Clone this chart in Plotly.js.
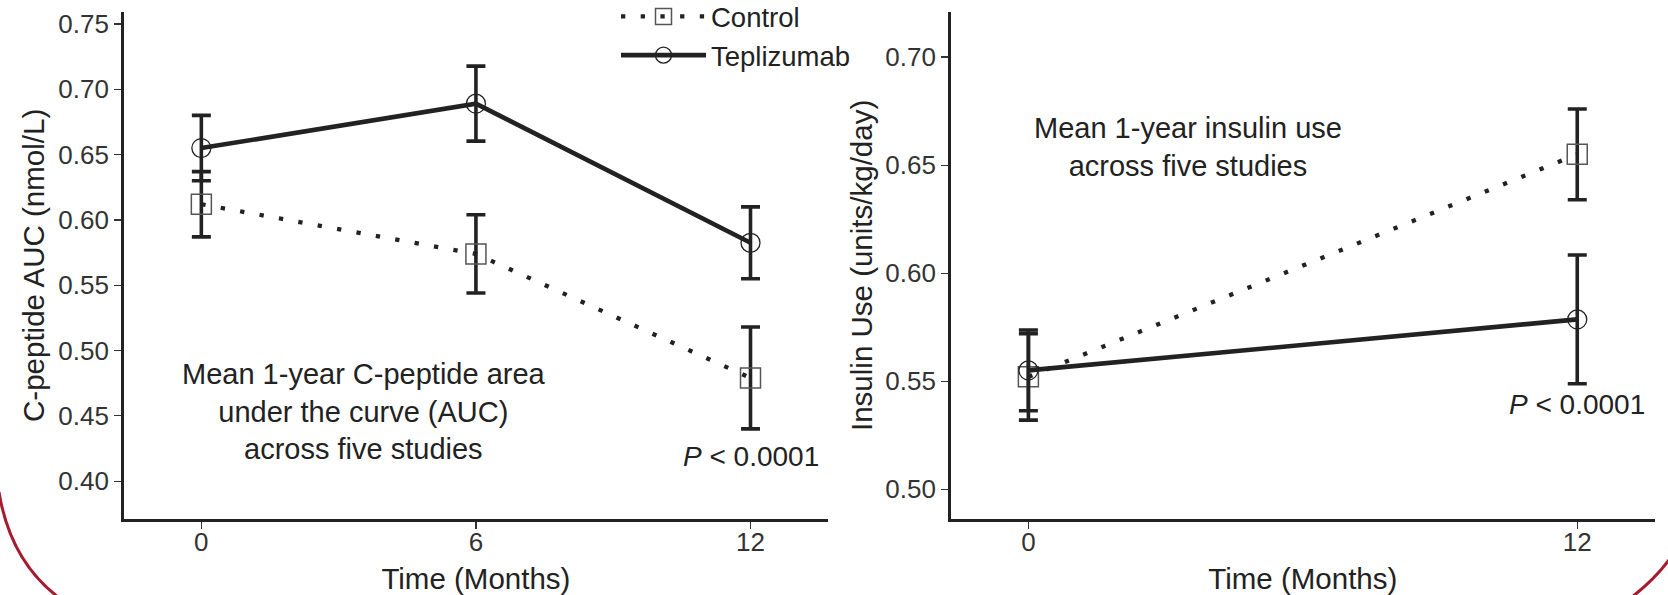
<!DOCTYPE html>
<html><head><meta charset="utf-8">
<script src="https://cdn.plot.ly/plotly-3.0.1.min.js"></script>
<style>html,body{margin:0;padding:0;background:#fff;} #chart{width:1668px;height:595px;}</style>
</head><body><div id="chart"></div>
<script>
// ---- data ----
const monthsAUC = [0, 6, 12];
const controlAUC = [0.612, 0.574, 0.479];
const controlAUCErr = [0.025, 0.030, 0.039];
const teplizumabAUC = [0.655, 0.689, 0.5825];
const teplizumabAUCErr = [0.025, 0.0287, 0.0275];

const monthsInsulin = [0, 12];
const controlInsulin = [0.552, 0.655];
const controlInsulinErr = [0.020, 0.021];
const teplizumabInsulin = [0.555, 0.5786];
const teplizumabInsulinErr = [0.0187, 0.0298];

const xTicksAUC = [0, 6, 12];
const xTicksInsulin = [0, 12];
const yTicksAUC = [0.40, 0.45, 0.50, 0.55, 0.60, 0.65, 0.70, 0.75];
const yTicksInsulin = [0.50, 0.55, 0.60, 0.65, 0.70];
const seriesNames = ['Control', 'Teplizumab'];

// ---- styling ----
const W = 1668, H = 595;
const FONT = '"Liberation Sans", Arial, Helvetica, sans-serif';
const ink = '#222222';
const px = v => v / W;
const py = v => 1 - v / H;

const ctrlLine = {color: ink, width: 4.3, dash: '4.3px,15.4px'};
const tepLine = {color: ink, width: 4.6};
const ctrlMarker = {symbol: 'square-open', size: 20, color: '#555', line: {width: 1.5, color: '#555'}};
const tepMarker = {symbol: 'circle-open', size: 19, color: ink, line: {width: 1.3, color: ink}};
const err = arr => ({type: 'data', array: arr, visible: true, color: ink, thickness: 3.6, width: 9.5});

const traces = [
  {x: monthsAUC, y: controlAUC, error_y: err(controlAUCErr), name: seriesNames[0], legendgroup: 'c',
   mode: 'lines+markers', line: ctrlLine, marker: ctrlMarker, xaxis: 'x', yaxis: 'y'},
  {x: monthsAUC, y: teplizumabAUC, error_y: err(teplizumabAUCErr), name: seriesNames[1], legendgroup: 't',
   mode: 'lines+markers', line: tepLine, marker: tepMarker, xaxis: 'x', yaxis: 'y'},
  {x: monthsInsulin, y: controlInsulin, error_y: err(controlInsulinErr), name: seriesNames[0], legendgroup: 'c', showlegend: false,
   mode: 'lines+markers', line: ctrlLine, marker: ctrlMarker, xaxis: 'x2', yaxis: 'y2'},
  {x: monthsInsulin, y: teplizumabInsulin, error_y: err(teplizumabInsulinErr), name: seriesNames[1], legendgroup: 't', showlegend: false,
   mode: 'lines+markers', line: tepLine, marker: tepMarker, xaxis: 'x2', yaxis: 'y2'}
];

const yDom = [py(520.3 - 1.25), py(11.7)];
const xCommon = {
  range: [-1.7, 13.7], showgrid: false, zeroline: false, showline: true, linewidth: 2.5, linecolor: ink,
  ticks: 'outside', ticklen: 7, tickwidth: 1.2, tickcolor: '#333', ticklabelstandoff: -9,
  tickfont: {family: FONT, size: 26, color: '#333'},
  title: {text: 'Time (Months)', font: {family: FONT, size: 29.5, color: ink}, standoff: 15}
};
const yCommon = {
  showgrid: false, zeroline: false, showline: true, linewidth: 2.5, linecolor: ink,
  ticks: 'outside', ticklen: 7, tickwidth: 1.2, tickcolor: '#333', tickformat: '.2f',
  tickfont: {family: FONT, size: 26, color: '#333'}, domain: yDom
};

const layout = {
  width: W, height: H, paper_bgcolor: '#fff', plot_bgcolor: '#fff',
  margin: {l: 0, r: 0, t: 0, b: 0, autoexpand: false},
  font: {family: FONT, color: ink},
  showlegend: true,
  legend: {x: px(616), y: py(-8), xanchor: 'left', yanchor: 'top', bgcolor: 'rgba(0,0,0,0)',
           font: {family: FONT, size: 27.5, color: ink}, itemwidth: 85, tracegroupgap: 0},
  xaxis: Object.assign({}, xCommon, {domain: [px(122.3 + 1.25), px(828.3)], anchor: 'y', tickvals: xTicksAUC}),
  yaxis: Object.assign({}, yCommon, {range: [0.371, 0.7594], anchor: 'x', tickvals: yTicksAUC,
          title: {text: 'C-peptide AUC (nmol/L)', font: {family: FONT, size: 29.5, color: ink}, standoff: 5}}),
  xaxis2: Object.assign({}, xCommon, {domain: [px(949.4 + 1.25), px(1655)], anchor: 'y2', tickvals: xTicksInsulin}),
  yaxis2: Object.assign({}, yCommon, {range: [0.4862, 0.721], anchor: 'x2', tickvals: yTicksInsulin,
          title: {text: 'Insulin Use (units/kg/day)', font: {family: FONT, size: 29.5, color: ink}, standoff: 4}}),
  annotations: [
    {xref: 'x', yref: 'y', x: 3.56, y: 0.4535, text: 'Mean 1-year C-peptide area<br>under the curve (AUC)<br>across five studies',
     showarrow: false, xanchor: 'center', yanchor: 'middle', align: 'center', font: {family: FONT, size: 29, color: ink}},
    {xref: 'x', yref: 'y', x: 12, y: 0.4188, text: '<i>P</i> &lt; 0.0001',
     showarrow: false, xanchor: 'center', yanchor: 'middle', font: {family: FONT, size: 28, color: ink}},
    {xref: 'x2', yref: 'y2', x: 3.5, y: 0.6586, text: 'Mean 1-year insulin use<br>across five studies',
     showarrow: false, xanchor: 'center', yanchor: 'middle', align: 'center', font: {family: FONT, size: 29, color: ink}},
    {xref: 'x2', yref: 'y2', x: 12, y: 0.5392, text: '<i>P</i> &lt; 0.0001',
     showarrow: false, xanchor: 'center', yanchor: 'middle', font: {family: FONT, size: 28, color: ink}}
  ],
  shapes: [
    {type: 'path', xref: 'paper', yref: 'paper', layer: 'above',
     path: 'M' + px(-1) + ',' + py(492) + ' Q' + px(10) + ',' + py(560) + ' ' + px(58) + ',' + py(597),
     line: {color: '#a51c30', width: 3}},
    {type: 'path', xref: 'paper', yref: 'paper', layer: 'above',
     path: 'M' + px(1669) + ',' + py(560) + ' Q' + px(1654) + ',' + py(580) + ' ' + px(1632) + ',' + py(597),
     line: {color: '#a51c30', width: 3}}
  ]
};

Plotly.newPlot('chart', traces, layout, {displayModeBar: false, staticPlot: true});
</script>
</body></html>
